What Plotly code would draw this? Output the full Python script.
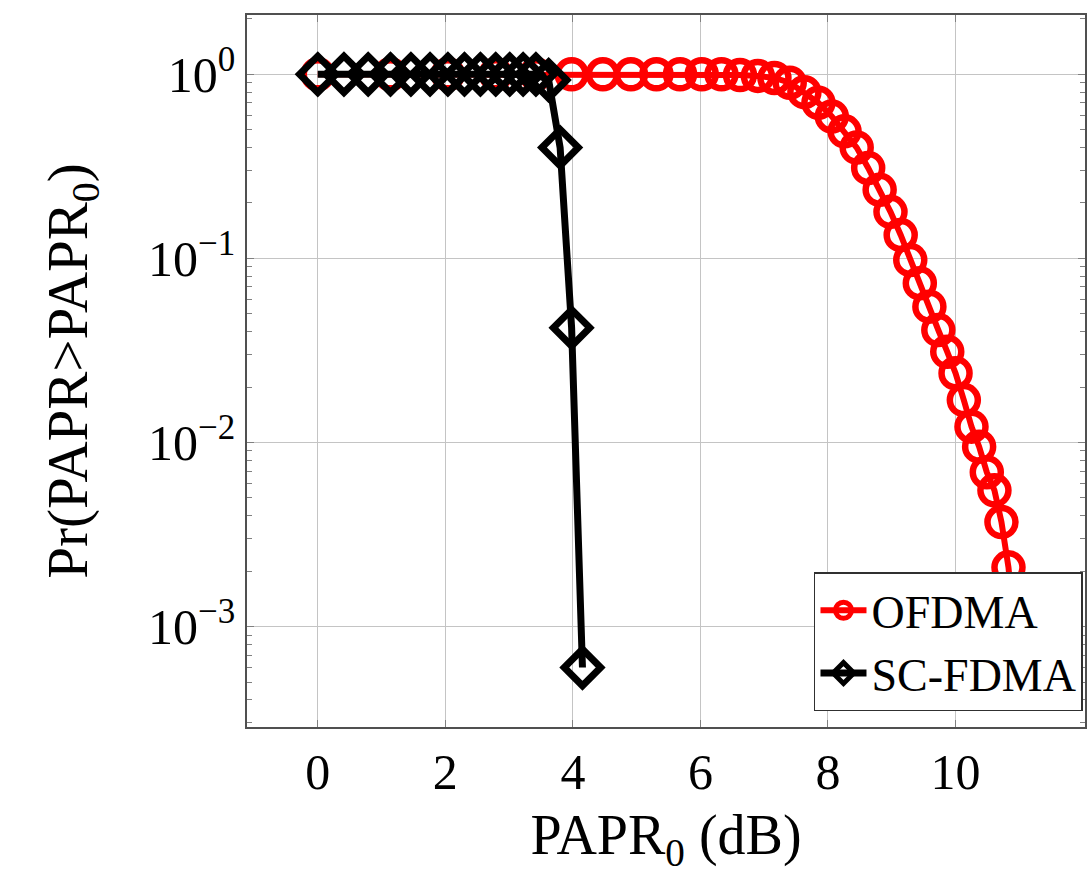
import plotly.graph_objects as go

# PAPR threshold grid (dB) and CCDF values for each scheme
ofdma_papr_db = [0.00, 1.14, 2.04, 2.79, 3.42, 3.98, 4.47, 4.91, 5.31, 5.68,
                 6.02, 6.33, 6.62, 6.90, 7.16, 7.40, 7.63, 7.85, 8.06, 8.26,
                 8.45, 8.63, 8.81, 8.98, 9.14, 9.29, 9.44, 9.59, 9.73, 9.87,
                 10.00, 10.13, 10.25, 10.37, 10.49, 10.61, 10.72, 10.83, 10.93]
ofdma_ccdf = [1.0, 1.0, 1.0, 1.0, 1.0, 1.0, 1.0, 1.0, 1.0, 1.0,
              1.0, 0.999, 0.99, 0.98, 0.955, 0.90, 0.80, 0.70, 0.59, 0.49,
              0.40, 0.31, 0.236, 0.179, 0.134, 0.098, 0.0733, 0.0547, 0.0408, 0.0311,
              0.0238, 0.0170, 0.0122, 0.0095, 0.0069, 0.0055, 0.0037, 0.0021, 0.0009]

scfdma_papr_db = [0.00, 0.41, 0.79, 1.14, 1.46, 1.76, 2.04, 2.30, 2.55, 2.79,
                  3.01, 3.22, 3.42, 3.62, 3.80, 3.98, 4.15]
scfdma_ccdf = [1.0, 1.0, 1.0, 1.0, 1.0, 1.0, 1.0, 1.0, 1.0, 1.0,
               1.0, 1.0, 1.0, 0.93, 0.40, 0.042, 0.0006]

x_ticks = [0, 2, 4, 6, 8, 10]
y_tick_vals = [1, 0.1, 0.01, 0.001]
y_tick_text = ["10<sup>0</sup>", "10<sup>−1</sup>", "10<sup>−2</sup>", "10<sup>−3</sup>"]

FONT = "Liberation Serif"
GRID = "#c4c4c4"
AXIS = "#505050"

fig = go.Figure()
fig.add_trace(go.Scatter(
    x=ofdma_papr_db, y=ofdma_ccdf, name="OFDMA", mode="lines+markers",
    line=dict(color="#ff0000", width=6),
    marker=dict(symbol="circle-open", size=28, color="#ff0000",
                line=dict(color="#ff0000", width=6.5)),
))
fig.add_trace(go.Scatter(
    x=scfdma_papr_db, y=scfdma_ccdf, name="SC-FDMA", mode="lines+markers",
    line=dict(color="#000000", width=7),
    marker=dict(symbol="diamond-open", size=28, color="#000000",
                line=dict(color="#000000", width=7)),
))

fig.update_layout(
    width=1089, height=885,
    margin=dict(l=247, r=2, t=15, b=158),
    paper_bgcolor="white", plot_bgcolor="white",
    font=dict(family=FONT, size=50, color="black"),
    showlegend=True,
    legend=dict(
        x=0.9976, y=0.022, xanchor="right", yanchor="bottom",
        bgcolor="white", bordercolor="#303030", borderwidth=1.5,
        font=dict(family=FONT, size=46, color="black"),
        itemsizing="trace", itemwidth=46, tracegroupgap=0,
    ),
)

fig.update_xaxes(
    range=[-1.11, 12.03], tickvals=x_ticks, ticktext=[str(v) for v in x_ticks],
    showgrid=True, gridcolor=GRID, gridwidth=1, zeroline=False,
    showline=True, linecolor=AXIS, linewidth=1.5, mirror="allticks",
    ticks="inside", ticklen=7, tickcolor="#808080", tickwidth=1,
    tickfont=dict(family=FONT, size=50),
    title=dict(text="PAPR<sub>0</sub> (dB)", font=dict(family=FONT, size=56), standoff=16),
)
fig.update_yaxes(
    type="log", range=[-3.545, 0.322],
    tickvals=y_tick_vals, ticktext=y_tick_text,
    showgrid=True, gridcolor=GRID, gridwidth=1, zeroline=False,
    showline=True, linecolor=AXIS, linewidth=1.5, mirror="allticks",
    ticks="inside", ticklen=7, tickcolor="#808080", tickwidth=1,
    minor=dict(ticks="inside", ticklen=5, tickcolor="#808080", dtick="D1", showgrid=False),
    tickfont=dict(family=FONT, size=50),
    title=dict(text="Pr(PAPR>PAPR<sub>0</sub>)", font=dict(family=FONT, size=57), standoff=42),
)

fig.write_html("out.html")
